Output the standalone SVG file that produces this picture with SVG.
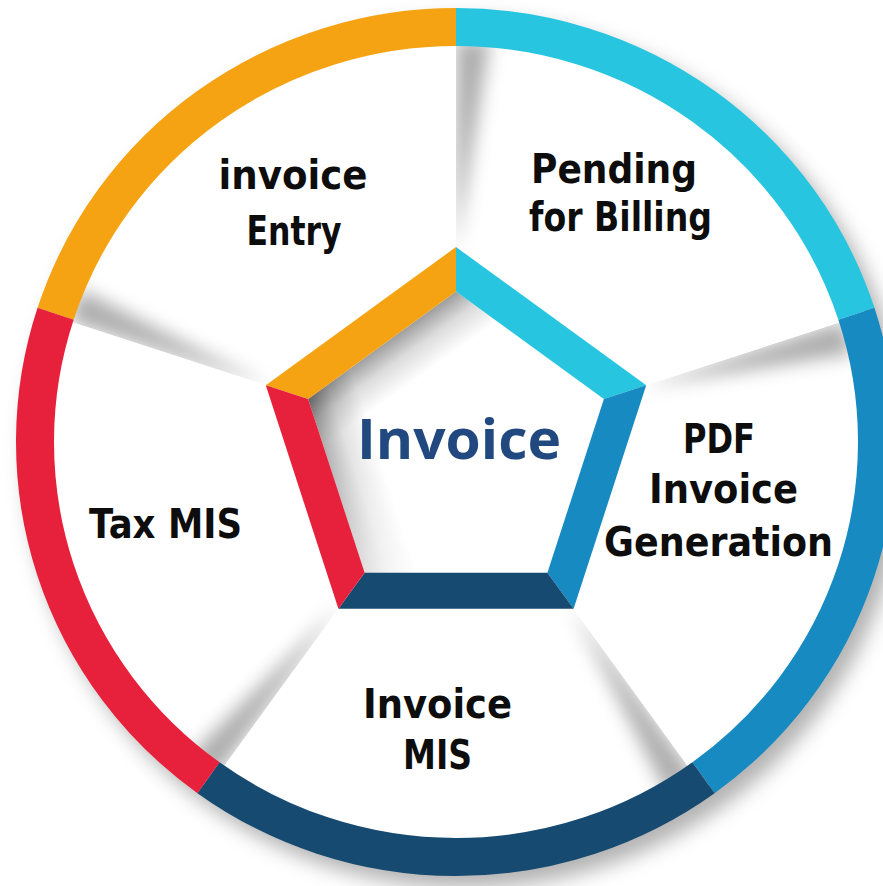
<svg xmlns="http://www.w3.org/2000/svg" width="883" height="886" viewBox="0 0 883 886">
  <defs>
    <style>
      .lbl { font-family: "DejaVu Sans", "Liberation Sans", sans-serif; font-weight: bold; font-size: 40px; fill: #0d0d0d; text-anchor: middle; }
      .ctr { font-family: "Open Sans", "DejaVu Sans", sans-serif; font-weight: 700; font-size: 56px; fill: #21497f; text-anchor: middle; }
      .ring { fill: none; stroke-width: 38; stroke-linecap: butt; }
    </style>
    <filter id="drop" x="-10%" y="-10%" width="125%" height="125%">
      <feGaussianBlur stdDeviation="10"/>
    </filter>
    <filter id="soft" x="-200%" y="-20%" width="500%" height="140%">
      <feGaussianBlur stdDeviation="9"/>
    </filter>
    <linearGradient id="shOrange" gradientUnits="userSpaceOnUse" x1="382" y1="345" x2="410" y2="384">
      <stop offset="0" stop-color="#000" stop-opacity="0.38"/>
      <stop offset="0.45" stop-color="#000" stop-opacity="0.14"/>
      <stop offset="1" stop-color="#000" stop-opacity="0"/>
    </linearGradient>
    <linearGradient id="shRed" gradientUnits="userSpaceOnUse" x1="336.4" y1="486" x2="384" y2="470.5">
      <stop offset="0" stop-color="#000" stop-opacity="0.38"/>
      <stop offset="0.45" stop-color="#000" stop-opacity="0.14"/>
      <stop offset="1" stop-color="#000" stop-opacity="0"/>
    </linearGradient>
    <linearGradient id="fadeDown" gradientUnits="userSpaceOnUse" x1="0" y1="399" x2="0" y2="575">
      <stop offset="0" stop-color="#fff" stop-opacity="0"/>
      <stop offset="1" stop-color="#fff" stop-opacity="0.7"/>
    </linearGradient>
    <clipPath id="wedge">
      <polygon points="456,447 456,-253 1121.7,230.7"/>
    </clipPath>
    <g id="spokeShade">
      <g clip-path="url(#wedge)">
        <polygon points="456,250 456,40 490,40" fill="#000" fill-opacity="0.32" filter="url(#soft)"/>
      </g>
    </g>
  </defs>

  <rect width="883" height="886" fill="#ffffff"/>

  <!-- outer drop shadow -->
  <ellipse cx="466" cy="454" rx="440" ry="434" fill="#000" fill-opacity="0.3" filter="url(#drop)"/>
  <ellipse cx="456" cy="442" rx="430" ry="424" fill="#ffffff"/>

  <!-- panel shading along spokes -->
  <g id="panel-shading">
    <use href="#spokeShade"/>
    <use href="#spokeShade" transform="rotate(72 456 447)"/>
    <use href="#spokeShade" transform="rotate(144 456 447)"/>
    <use href="#spokeShade" transform="rotate(216 456 447)"/>
    <use href="#spokeShade" transform="rotate(288 456 447)"/>
  </g>

  <!-- outer ring segments -->
  <g id="ring">
    <path class="ring" stroke="#f6a313" d="M55.6,313.8 A421,415 0 0 1 456,27"/>
    <path class="ring" stroke="#27c5df" d="M456,27 A421,415 0 0 1 856.4,313.8"/>
    <path class="ring" stroke="#178ac2" d="M856.4,313.8 A421,415 0 0 1 703.5,777.7"/>
    <path class="ring" stroke="#174a70" d="M703.5,777.7 A421,415 0 0 1 208.5,777.7"/>
    <path class="ring" stroke="#e7213b" d="M208.5,777.7 A421,415 0 0 1 55.6,313.8"/>
  </g>

  <!-- central pentagon -->
  <g id="center">
    <polygon points="456,291.5 603.9,399 547.4,572.8 364.6,572.8 308.1,399" fill="#ffffff"/>
    <polygon points="456,291.5 603.9,399 547.4,572.8 364.6,572.8 308.1,399" fill="url(#shOrange)"/>
    <polygon points="456,291.5 603.9,399 547.4,572.8 364.6,572.8 308.1,399" fill="url(#shRed)"/>
    <polygon points="456,291.5 603.9,399 547.4,572.8 364.6,572.8 308.1,399" fill="url(#fadeDown)"/>
    <polygon points="265.8,385.2 456,247 456,291.5 308.1,399" fill="#f6a313"/>
    <polygon points="456,247 646.2,385.2 603.9,399 456,291.5" fill="#27c5df"/>
    <polygon points="646.2,385.2 573.6,608.8 547.4,572.8 603.9,399" fill="#178ac2"/>
    <polygon points="573.6,608.8 338.4,608.8 364.6,572.8 547.4,572.8" fill="#174a70"/>
    <polygon points="338.4,608.8 265.8,385.2 308.1,399 364.6,572.8" fill="#e7213b"/>
    <text class="ctr" x="459" y="459" textLength="204" lengthAdjust="spacingAndGlyphs">Invoice</text>
  </g>

  <g id="node-invoice-entry">
    <text class="lbl" x="293" y="189" textLength="149" lengthAdjust="spacingAndGlyphs">invoice</text>
    <text class="lbl" x="294" y="245" textLength="95" lengthAdjust="spacingAndGlyphs">Entry</text>
  </g>
  <g id="node-pending-billing">
    <text class="lbl" x="614" y="183" textLength="166" lengthAdjust="spacingAndGlyphs">Pending</text>
    <text class="lbl" x="620.5" y="231" textLength="183" lengthAdjust="spacingAndGlyphs">for Billing</text>
  </g>
  <g id="node-pdf-generation">
    <text class="lbl" x="719" y="453" textLength="72" lengthAdjust="spacingAndGlyphs">PDF</text>
    <text class="lbl" x="723.5" y="503" textLength="149" lengthAdjust="spacingAndGlyphs">Invoice</text>
    <text class="lbl" x="718.5" y="556" textLength="229" lengthAdjust="spacingAndGlyphs">Generation</text>
  </g>
  <g id="node-invoice-mis">
    <text class="lbl" x="437.5" y="718" textLength="149" lengthAdjust="spacingAndGlyphs">Invoice</text>
    <text class="lbl" x="437.5" y="769" textLength="69" lengthAdjust="spacingAndGlyphs">MIS</text>
  </g>
  <g id="node-tax-mis">
    <text class="lbl" x="165.5" y="538" textLength="153" lengthAdjust="spacingAndGlyphs">Tax MIS</text>
  </g>
</svg>
